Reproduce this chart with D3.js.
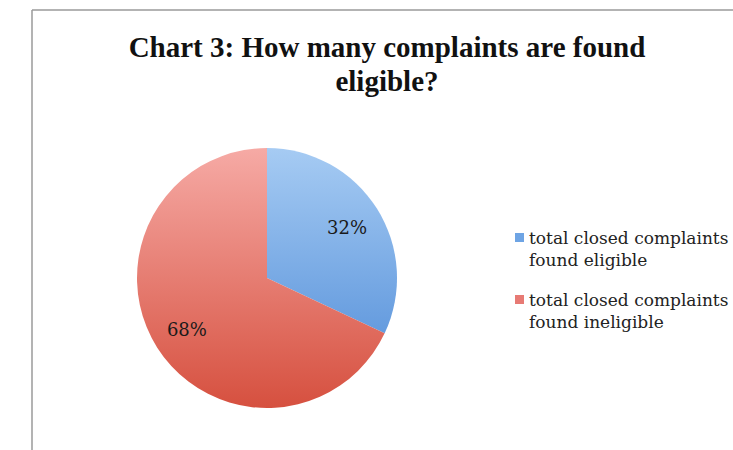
<!DOCTYPE html>
<html lang="en">
<head>
<meta charset="utf-8">
<title>Chart 3</title>
<script src="https://d3js.org/d3.v7.min.js"></script>
<style>
body { margin: 0; background: #fff; }
</style>
</head>
<body>
<div id="chart"></div>
<script>
// data
var categories = ["total closed complaints found eligible", "total closed complaints found ineligible"]
var legendLines = [["total closed complaints", "found eligible"], ["total closed complaints", "found ineligible"]]
var values = [32, 68]
var topColors = ["#a6cbf3", "#f6aaa5"]
var bottomColors = ["#4a88d6", "#d6503f"]
var legendColors = ["#6ea4e4", "#e77a74"]

var w = 733, h = 450
var cx = 267, cy = 278, r = 130

var svg = d3.select("#chart").append("svg")
    .attr("width", w).attr("height", h)

// frame lines
svg.append("line").attr("x1", 32).attr("y1", 10).attr("x2", 32).attr("y2", h)
    .attr("stroke", "#9a9a9a").attr("stroke-width", 1.5)
svg.append("line").attr("x1", 32).attr("y1", 10).attr("x2", w).attr("y2", 10)
    .attr("stroke", "#9a9a9a").attr("stroke-width", 1.5)

// title
var title = svg.append("text")
    .attr("text-anchor", "middle")
    .attr("font-family", "'Liberation Serif', serif")
    .attr("font-weight", "bold")
    .attr("font-size", 29)
    .attr("fill", "#111")
title.append("tspan").attr("x", 387).attr("y", 57).text("Chart 3: How many complaints are found")
title.append("tspan").attr("x", 387).attr("y", 91).text("eligible?")

// gradients
var defs = svg.append("defs")
values.forEach(function(v, i) {
    var g = defs.append("linearGradient")
        .attr("id", "grad" + i)
        .attr("gradientUnits", "userSpaceOnUse")
        .attr("x1", 0).attr("y1", -r).attr("x2", 0).attr("y2", r)
    g.append("stop").attr("offset", "0%").attr("stop-color", topColors[i])
    g.append("stop").attr("offset", "100%").attr("stop-color", bottomColors[i])
})

var pie = d3.pie().sort(null)
var arc = d3.arc().innerRadius(0).outerRadius(r)
var labelArc = d3.arc().innerRadius(r * 0.73).outerRadius(r * 0.73)

var g = svg.append("g").attr("transform", "translate(" + cx + "," + cy + ")")
var arcs = pie(values)

g.selectAll("path")
    .data(arcs)
    .enter()
    .append("path")
    .attr("d", arc)
    .attr("fill", function(d, i) { return "url(#grad" + i + ")" })

g.selectAll("text.pct")
    .data(arcs)
    .enter()
    .append("text")
    .attr("class", "pct")
    .attr("text-anchor", "middle")
    .attr("font-family", "'DejaVu Serif', serif")
    .attr("font-size", 18)
    .attr("fill", "#1a1a1a")
    .attr("x", function(d) { return labelArc.centroid(d)[0] })
    .attr("y", function(d) { return labelArc.centroid(d)[1] + 7 })
    .text(function(d) { return d.data + "%" })

// legend
var legend = svg.append("g").attr("transform", "translate(515,233)")
var item = legend.selectAll("g")
    .data(categories)
    .enter()
    .append("g")
    .attr("transform", function(d, i) { return "translate(0," + i * 62 + ")" })
item.append("rect")
    .attr("width", 9).attr("height", 9)
    .attr("fill", function(d, i) { return legendColors[i] })
item.append("text")
    .attr("font-family", "'DejaVu Serif', serif")
    .attr("font-size", 17)
    .attr("fill", "#222")
    .selectAll("tspan")
    .data(function(d, i) { return legendLines[i] })
    .enter()
    .append("tspan")
    .attr("x", 14)
    .attr("y", function(d, j) { return 11 + j * 22 })
    .text(function(d) { return d })
</script>
</body>
</html>
